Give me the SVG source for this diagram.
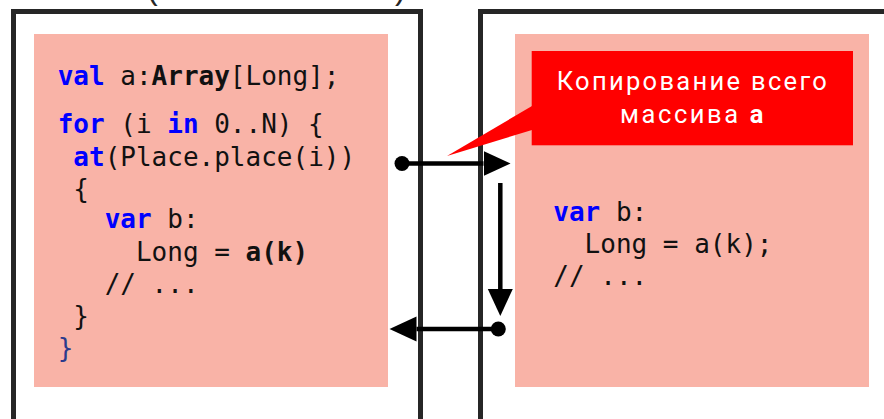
<svg xmlns="http://www.w3.org/2000/svg" width="884" height="419" viewBox="0 0 884 419">
  <style>
    .frame { fill: none; stroke: #262626; stroke-width: 5; }
    .panel { fill: #F9B3A7; }
    .code { font-family: "DejaVu Sans Mono", "Liberation Mono", monospace; font-size: 26px; fill: #111111; }
    .kw { fill: #0000FF; font-weight: bold; }
    .b { font-weight: bold; }
    .brace { fill: #2B3A8C; }
    .conn { stroke: #000000; stroke-width: 4.5; fill: none; }
    .note { font-family: Roboto, "Noto Sans", "Liberation Sans", sans-serif; font-size: 25.5px; fill: #FFFFFF; }
    .paren { font-family: "Liberation Sans", sans-serif; font-size: 32px; fill: #262626; }
  </style>
  <defs>
    <marker id="arrow" markerUnits="userSpaceOnUse" markerWidth="28" markerHeight="26" refX="0" refY="12.5" orient="auto" viewBox="0 0 28 26">
      <path d="M0,0 L27,12.5 L0,25 Z" fill="#000000"/>
    </marker>
    <marker id="dot" markerUnits="userSpaceOnUse" markerWidth="16" markerHeight="16" refX="8" refY="8" orient="auto" viewBox="0 0 16 16">
      <circle cx="8" cy="8" r="7.5" fill="#000000"/>
    </marker>
  </defs>
  <rect width="884" height="419" fill="#FFFFFF"/>

  <text class="paren" x="147" y="-1.5">(</text>
  <text class="paren" x="395" y="-1.5">)</text>

  <g id="place-left">
    <rect class="frame" x="13.5" y="11.5" width="407" height="450"/>
    <rect class="panel" x="34" y="34" width="354" height="353"/>
    <text class="code" y="85"><tspan x="57.7" class="kw">val</tspan><tspan x="104.65"> a:</tspan><tspan x="151.6" class="b">Array</tspan><tspan x="229.85">[Long];</tspan></text>
    <text class="code" y="133"><tspan x="57.7" class="kw">for</tspan><tspan x="104.65"> (i </tspan><tspan x="167.25" class="kw">in</tspan><tspan x="198.55"> 0..N) {</tspan></text>
    <text class="code" y="166"><tspan x="73.35" class="kw">at</tspan><tspan x="104.65">(Place.place(i))</tspan></text>
    <text class="code" x="73.35" y="198">{</text>
    <text class="code" y="228"><tspan x="104.65" class="kw">var</tspan><tspan x="151.6"> b:</tspan></text>
    <text class="code" y="261"><tspan x="135.95">Long = </tspan><tspan x="245.5" class="b">a(k)</tspan></text>
    <text class="code" x="104.65" y="293">// ...</text>
    <text class="code" x="73.35" y="325">}</text>
    <text class="code brace" x="57.7" y="357">}</text>
  </g>

  <g id="place-right">
    <rect class="frame" x="480.5" y="11.5" width="450" height="450"/>
    <rect class="panel" x="515" y="34" width="354" height="353"/>
    <text class="code" y="220.7"><tspan x="553.3" class="kw">var</tspan><tspan x="600.25"> b:</tspan></text>
    <text class="code" x="584.6" y="252.7">Long = a(k);</text>
    <text class="code" x="553.3" y="285">// ...</text>
  </g>

  <g id="connectors">
    <line class="conn" x1="402" y1="163.5" x2="483.5" y2="163.5" marker-start="url(#dot)" marker-end="url(#arrow)"/>
    <line class="conn" x1="500.3" y1="183" x2="500.3" y2="289" marker-end="url(#arrow)"/>
    <line class="conn" x1="498.3" y1="329" x2="416.5" y2="329" marker-start="url(#dot)" marker-end="url(#arrow)"/>
  </g>

  <g id="callout">
    <polygon points="532,106 447,156 532,130" fill="#FF0000"/>
    <rect x="531.7" y="51" width="321.3" height="94.3" fill="#FF0000"/>
    <text class="note" x="556.7" y="90" textLength="270" lengthAdjust="spacing">Копирование всего</text>
    <text class="note" x="620" y="123.3" textLength="143.3" lengthAdjust="spacing">массива <tspan class="b">a</tspan></text>
  </g>
</svg>
